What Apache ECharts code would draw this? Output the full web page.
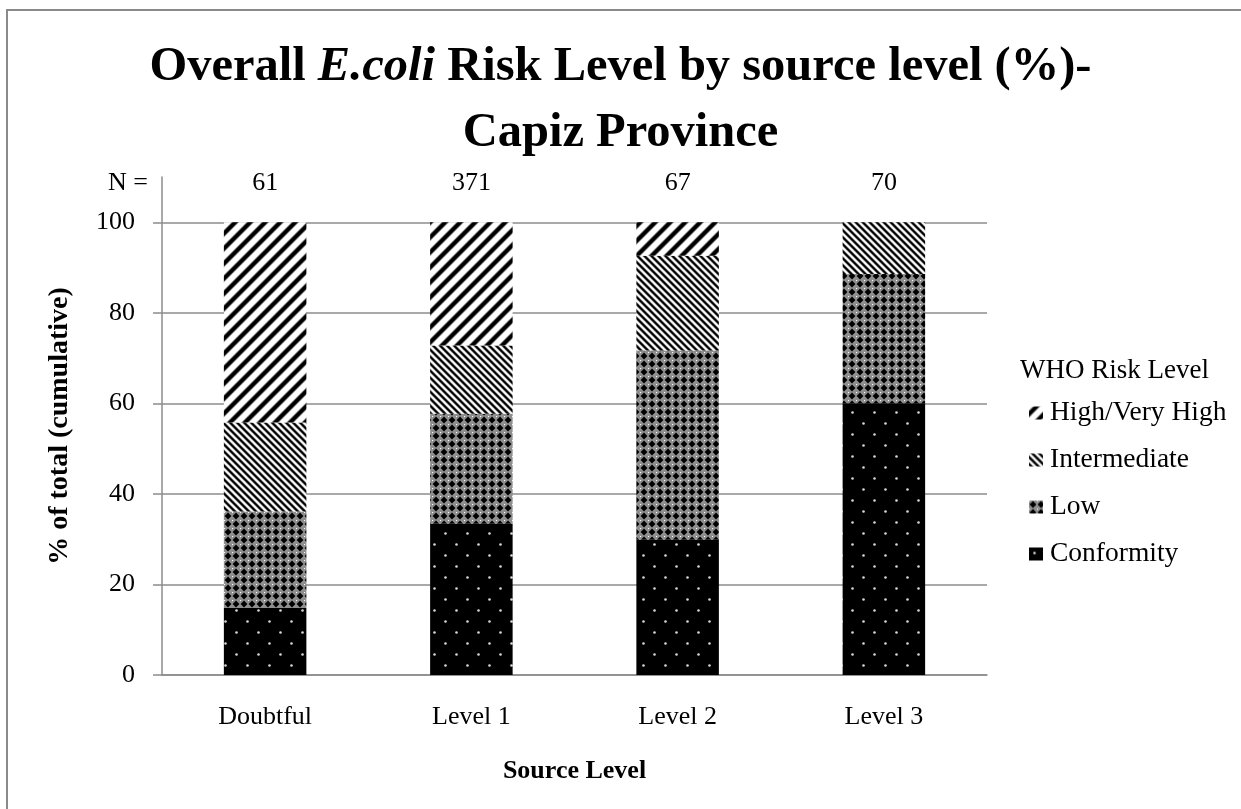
<!DOCTYPE html>
<html>
<head>
<meta charset="utf-8">
<script src="https://cdn.jsdelivr.net/npm/echarts@6/dist/echarts.min.js"></script>
<style>
  html, body { margin: 0; padding: 0; background: #ffffff; }
  #chart { width: 1241px; height: 809px; }
</style>
</head>
<body>
<div id="chart"></div>
<script>
// Source levels and number of samples per level
const categories = ['Doubtful', 'Level 1', 'Level 2', 'Level 3'];
const sampleCounts = [61, 371, 67, 70];

// Share of samples (%) in each WHO risk class, per source level
const conformity = [14.8, 33.4, 29.9, 60.0];
const low = [21.3, 24.3, 41.8, 28.6];
const intermediate = [19.7, 15.1, 20.9, 11.4];
const highVeryHigh = [44.2, 27.2, 7.4, 0];

// Value axis ticks
const yTickValues = [0, 20, 40, 60, 80, 100];

const FONT = 'Liberation Serif';
const GRID_GRAY = '#8c8c8c';

function makeCanvas(w, h) {
  const c = document.createElement('canvas');
  c.width = w; c.height = h;
  return c;
}

// Diagonal stripe tile; rising = "/" direction, otherwise "\"
function stripeTile(period, rising, blackShare, soften) {
  const c = makeCanvas(period, period);
  const ctx = c.getContext('2d');
  const img = ctx.createImageData(period, period);
  const ss = 4;
  const half = blackShare * period / 2;
  for (let y = 0; y < period; y++) {
    for (let x = 0; x < period; x++) {
      let acc = 0;
      for (let sy = 0; sy < ss; sy++) {
        for (let sx = 0; sx < ss; sx++) {
          const px = x + (sx + 0.5) / ss, py = y + (sy + 0.5) / ss;
          const s = rising ? px + py : px - py;
          const t = ((s % period) + period) % period;
          const d = Math.abs(t - period / 2);
          acc += Math.min(1, Math.max(0, (d - half) / soften + 0.5));
        }
      }
      const v = Math.round(255 * acc / (ss * ss));
      const i = (y * period + x) * 4;
      img.data[i] = img.data[i + 1] = img.data[i + 2] = v;
      img.data[i + 3] = 255;
    }
  }
  ctx.putImageData(img, 0, 0);
  return c;
}

// Black fill with a staggered grid of small light dots
function dotTile() {
  const c = makeCanvas(22, 22);
  const ctx = c.getContext('2d');
  ctx.fillStyle = '#000';
  ctx.fillRect(0, 0, 22, 22);
  ctx.fillStyle = '#d8d8d8';
  [[5.5, 5.5], [16.5, 16.5]].forEach(([x, y]) => {
    ctx.beginPath();
    ctx.arc(x, y, 1.3, 0, Math.PI * 2);
    ctx.fill();
  });
  return c;
}

// Grey checker of black diamonds with white points between them
function diamondTile() {
  const c = makeCanvas(8, 8);
  const ctx = c.getContext('2d');
  ctx.fillStyle = '#8e8e8e';
  ctx.fillRect(0, 0, 8, 8);
  ctx.fillStyle = '#000';
  ctx.beginPath();
  ctx.moveTo(4, 0.6); ctx.lineTo(7.4, 4); ctx.lineTo(4, 7.4); ctx.lineTo(0.6, 4);
  ctx.closePath();
  ctx.fill();
  ctx.fillStyle = '#ffffff';
  ctx.fillRect(0, 0, 1, 1);
  return c;
}

const fills = {
  conformity: { image: dotTile(), repeat: 'repeat' },
  low: { image: diamondTile(), repeat: 'repeat' },
  intermediate: { image: stripeTile(7, false, 0.5, 1.6), repeat: 'repeat' },
  high: { image: stripeTile(15, true, 0.42, 2.2), repeat: 'repeat' }
};

function stackSeries(name, values, fill) {
  return {
    name: name,
    type: 'bar',
    stack: 'risk',
    barWidth: '40%',
    data: values,
    itemStyle: { color: fill },
    emphasis: { disabled: true }
  };
}

const chart = echarts.init(document.getElementById('chart'), null, { renderer: 'canvas' });

chart.setOption({
  animation: false,
  backgroundColor: '#ffffff',
  textStyle: { fontFamily: FONT, color: '#000' },
  title: [
    {
      left: 'center',
      top: 29,
      text: '{b|Overall }{i|E.coli}{b| Risk Level by source level (%)-}\n{b|Capiz Province}',
      textStyle: {
        fontFamily: FONT,
        rich: {
          b: { fontFamily: FONT, fontWeight: 'bold', fontSize: 48.5, lineHeight: 66, color: '#000' },
          i: { fontFamily: FONT, fontWeight: 'bold', fontStyle: 'italic', fontSize: 48.5, lineHeight: 66, color: '#000' }
        }
      }
    },
    {
      left: 1015,
      top: 352,
      text: 'WHO Risk Level',
      textStyle: { fontFamily: FONT, fontWeight: 'normal', fontSize: 27, color: '#000' }
    }
  ],
  legend: {
    orient: 'vertical',
    left: 1029,
    top: 399,
    padding: 0,
    itemWidth: 14,
    itemHeight: 13,
    itemGap: 19,
    icon: 'rect',
    data: ['High/Very High', 'Intermediate', 'Low', 'Conformity'],
    textStyle: { fontFamily: FONT, fontSize: 27.5, lineHeight: 28, color: '#000', padding: [0, 0, 0, 2] },
    selectedMode: false
  },
  grid: { left: 162, right: 254, top: 177, bottom: 134, containLabel: false },
  xAxis: [
    {
      type: 'category',
      data: categories,
      axisLine: { show: true, lineStyle: { color: GRID_GRAY, width: 1.5 } },
      axisTick: { show: false },
      axisLabel: { fontFamily: FONT, fontSize: 26, color: '#000', margin: 29 },
      name: 'Source Level',
      nameLocation: 'middle',
      nameGap: 83,
      nameTextStyle: { fontFamily: FONT, fontWeight: 'bold', fontSize: 26, color: '#000' }
    },
    {
      type: 'category',
      position: 'top',
      data: sampleCounts.map(String),
      axisLine: { show: false },
      axisTick: { show: false },
      axisLabel: { fontFamily: FONT, fontSize: 26, color: '#000', margin: -19 },
      name: 'N =',
      nameLocation: 'start',
      nameGap: 14,
      nameTextStyle: { fontFamily: FONT, fontSize: 26, color: '#000', verticalAlign: 'top', lineHeight: 12 }
    }
  ],
  yAxis: {
    type: 'value',
    min: 0,
    max: 110,
    interval: 20,
    name: '% of total (cumulative)',
    nameLocation: 'middle',
    nameGap: 88,
    nameTextStyle: { fontFamily: FONT, fontWeight: 'bold', fontSize: 28, color: '#000' },
    axisLine: { show: true, lineStyle: { color: GRID_GRAY, width: 1.5 } },
    axisTick: { show: true, length: 9, lineStyle: { color: GRID_GRAY, width: 1.5 }, customValues: yTickValues },
    axisLabel: { fontFamily: FONT, fontSize: 26, color: '#000', margin: 27, customValues: yTickValues },
    splitLine: { show: true, lineStyle: { color: GRID_GRAY, width: 1.5 } }
  },
  series: [
    stackSeries('Conformity', conformity, fills.conformity),
    stackSeries('Low', low, fills.low),
    stackSeries('Intermediate', intermediate, fills.intermediate),
    stackSeries('High/Very High', highVeryHigh, fills.high)
  ],
  graphic: [
    {
      type: 'rect',
      silent: true,
      shape: { x: 7, y: 10, width: 1300, height: 900 },
      style: { fill: null, stroke: '#8a8a8a', lineWidth: 2 }
    }
  ]
});
</script>
</body>
</html>
